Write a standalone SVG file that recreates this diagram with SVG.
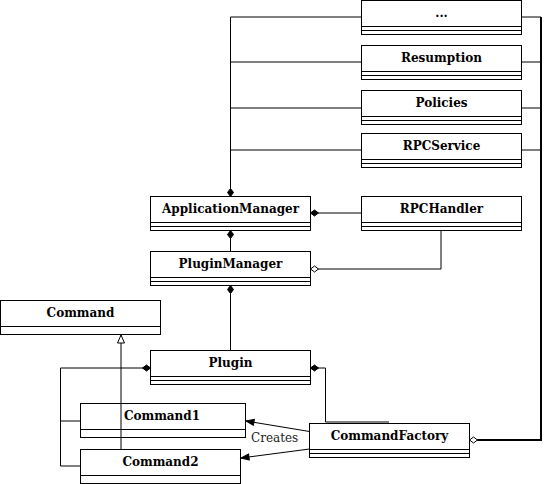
<svg xmlns="http://www.w3.org/2000/svg" width="550" height="484" viewBox="0 0 550 484">
<style>
.box{fill:#fff;stroke:#000;stroke-width:1}
.div{stroke:#000;stroke-width:1}
.name{font-family:"DejaVu Serif","Liberation Serif",serif;font-weight:bold;font-size:12px;fill:#000;text-anchor:middle}
.lbl{font-family:"DejaVu Serif","Liberation Serif",serif;font-size:12px;fill:#222}
.ln{fill:none;stroke:#000;stroke-width:1}
.thick{stroke-width:2}
</style>
<defs>
<marker id="dfill" markerUnits="userSpaceOnUse" viewBox="-1 -5 11 10" markerWidth="11" markerHeight="10" refX="0" refY="0" orient="auto" overflow="visible"><path d="M0,0 L4,-3 L8,0 L4,3 Z" fill="#000" stroke="#000" stroke-width="1"/></marker>
<marker id="dhollow" markerUnits="userSpaceOnUse" viewBox="-1 -5 11 10" markerWidth="11" markerHeight="10" refX="0" refY="0" orient="auto" overflow="visible"><path d="M0,0 L4,-3 L8,0 L4,3 Z" fill="#fff" stroke="#000" stroke-width="1"/></marker>
<marker id="arrow" markerUnits="userSpaceOnUse" viewBox="-1 -5 11 10" markerWidth="11" markerHeight="10" refX="8" refY="0" orient="auto" overflow="visible"><path d="M0,-3 L8,0 L0,3 Z" fill="#000" stroke="#000" stroke-width="1"/></marker>
<marker id="tri" markerUnits="userSpaceOnUse" viewBox="-1 -5 11 10" markerWidth="11" markerHeight="10" refX="8" refY="0" orient="auto" overflow="visible"><path d="M0,-3.5 L8,0 L0,3.5 Z" fill="#fff" stroke="#000" stroke-width="1"/></marker>
</defs>

<g id="nodes">
<g id="n-dots"><rect class="box" x="361.5" y="0.5" width="160" height="34"/><path class="div" d="M361.5,26.5 H521.5 M361.5,30.5 H521.5"/><text class="name" x="441.5" y="17">...</text></g>
<g id="n-resumption"><rect class="box" x="361.5" y="45.5" width="160" height="34"/><path class="div" d="M361.5,71.5 H521.5 M361.5,75.5 H521.5"/><text class="name" x="441.5" y="62">Resumption</text></g>
<g id="n-policies"><rect class="box" x="361.5" y="90.5" width="160" height="34"/><path class="div" d="M361.5,116.5 H521.5 M361.5,120.5 H521.5"/><text class="name" x="441.5" y="107">Policies</text></g>
<g id="n-rpcservice"><rect class="box" x="361.5" y="133.5" width="160" height="34"/><path class="div" d="M361.5,159.5 H521.5 M361.5,163.5 H521.5"/><text class="name" x="441.5" y="150">RPCService</text></g>
<g id="n-rpchandler"><rect class="box" x="361.5" y="196.5" width="160" height="34"/><path class="div" d="M361.5,222.5 H521.5 M361.5,226.5 H521.5"/><text class="name" x="441.5" y="213">RPCHandler</text></g>
<g id="n-appmanager"><rect class="box" x="150.5" y="196.5" width="160" height="34"/><path class="div" d="M150.5,222.5 H310.5 M150.5,226.5 H310.5"/><text class="name" x="230.5" y="213">ApplicationManager</text></g>
<g id="n-pluginmanager"><rect class="box" x="150.5" y="251.5" width="160" height="34"/><path class="div" d="M150.5,277.5 H310.5 M150.5,281.5 H310.5"/><text class="name" x="230.5" y="268">PluginManager</text></g>
<g id="n-command"><rect class="box" x="0.5" y="300.5" width="160" height="34"/><path class="div" d="M0.5,326.5 H160.5"/><text class="name" x="80.5" y="317">Command</text></g>
<g id="n-plugin"><rect class="box" x="150.5" y="350.5" width="160" height="34"/><path class="div" d="M150.5,376.5 H310.5 M150.5,380.5 H310.5"/><text class="name" x="230.5" y="367">Plugin</text></g>
<g id="n-command1"><rect class="box" x="80.5" y="403.5" width="165" height="34"/><path class="div" d="M80.5,429.5 H245.5"/><text class="name" x="162" y="420">Command1</text></g>
<g id="n-command2"><rect class="box" x="80.5" y="449.5" width="160" height="34"/><path class="div" d="M80.5,475.5 H240.5"/><text class="name" x="160.5" y="466">Command2</text></g>
<g id="n-commandfactory"><rect class="box" x="309.5" y="423.5" width="160" height="34"/><path class="div" d="M309.5,449.5 H469.5 M309.5,453.5 H469.5"/><text class="name" x="389.5" y="440">CommandFactory</text></g>
</g>

<g id="connectors">
<path class="ln" d="M230.5,196.5 V17" marker-start="url(#dfill)"/>
<path class="ln" d="M230.5,17 H361.5 M230.5,62 H361.5 M230.5,108 H361.5 M230.5,150 H361.5"/>
<path class="ln" d="M521.5,17 H541 M521.5,62 H541 M521.5,108 H541 M521.5,150 H541"/>
<path class="ln thick" d="M469.5,440 H541 V17" marker-start="url(#dhollow)"/>
<path class="ln" d="M310.5,213 H361.5" marker-start="url(#dfill)"/>
<path class="ln" d="M230.5,230.5 V251.5" marker-start="url(#dfill)"/>
<path class="ln" d="M310.5,269 H441 V230.5" marker-start="url(#dhollow)"/>
<path class="ln" d="M230.5,285.5 V350.5" marker-start="url(#dfill)"/>
<path class="ln" d="M150.5,368 H60.5 V466 H80.5" marker-start="url(#dfill)"/>
<path class="ln" d="M60.5,421 H80.5"/>
<path class="ln" d="M121,449.5 V335" marker-end="url(#tri)"/>
<path class="ln" d="M310.5,368 H325.5 V422 H389" marker-start="url(#dfill)"/>
<path class="ln" d="M309.5,431.5 L246,421" marker-end="url(#arrow)"/>
<path class="ln" d="M309.5,449 L241,458" marker-end="url(#arrow)"/>
<text class="lbl" x="251" y="442">Creates</text>
</g>
</svg>
